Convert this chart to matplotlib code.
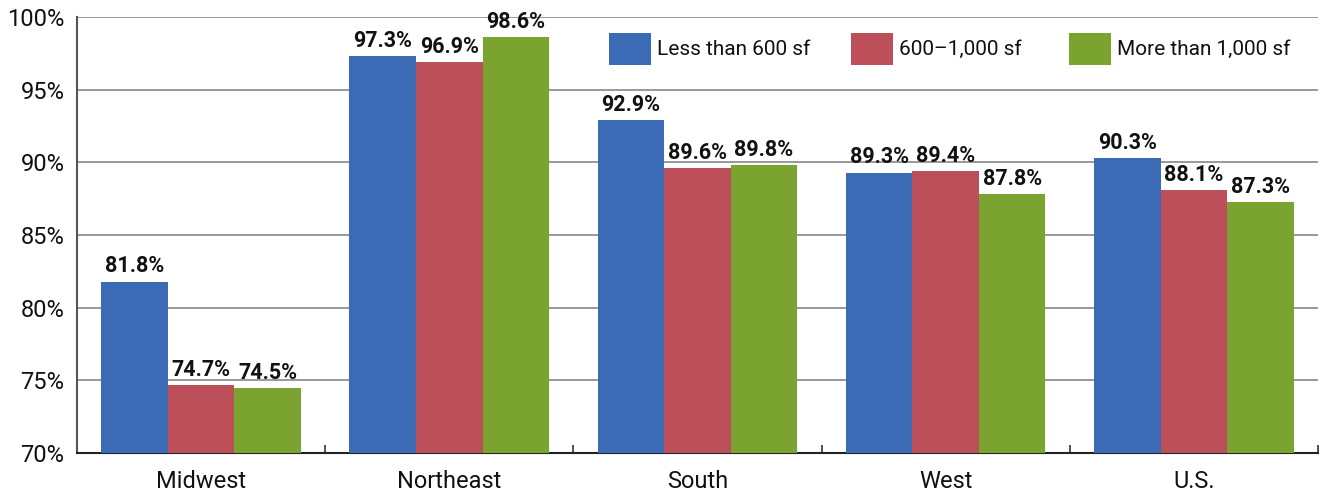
import matplotlib
matplotlib.use("Agg")
import matplotlib.pyplot as plt
import numpy as np
from matplotlib.ticker import FuncFormatter
from matplotlib.patches import Rectangle

plt.rcParams['font.family'] = ['Roboto', 'DejaVu Sans']

categories = ["Midwest", "Northeast", "South", "West", "U.S."]
series_names = ["Less than 600 sf", "600\u20131,000 sf", "More than 1,000 sf"]
less_600 = [81.8, 97.3, 92.9, 89.3, 90.3]
mid_600_1000 = [74.7, 96.9, 89.6, 89.4, 88.1]
more_1000 = [74.5, 98.6, 89.8, 87.8, 87.3]
colors = ["#3A6BB4", "#BC4F5A", "#7BA32F"]
y_ticks = [70, 75, 80, 85, 90, 95, 100]

fig = plt.figure(figsize=(13.27, 4.96), dpi=100)
ax = fig.add_axes([0.058, 0.0867, 0.9352, 0.879])

x = np.arange(len(categories))
w = 0.268
for i, (vals, name, c) in enumerate(zip([less_600, mid_600_1000, more_1000], series_names, colors)):
    pos = x + (i - 1) * w
    ax.bar(pos, vals, width=w, color=c, label=name, zorder=3)
    for p, v in zip(pos, vals):
        ax.text(p, v + 0.28, f"{v:.1f}%", ha='center', va='bottom',
                fontsize=15.5, fontweight='bold', color='#111111', zorder=4)

ax.set_xlim(-0.5, len(categories) - 0.5)
ax.set_ylim(70, 100)
ax.set_yticks(y_ticks)
ax.yaxis.set_major_formatter(FuncFormatter(lambda v, _: f"{v:.0f}%"))
ax.set_xticks(x)
ax.set_xticklabels(categories)
ax.set_xticks(np.arange(len(categories) + 1) - 0.5, minor=True)
ax.tick_params(axis='x', which='major', length=0, labelsize=17, pad=12, colors='#111111')
ax.tick_params(axis='x', which='minor', length=6, direction='in', color='#333333', width=1.2)
ax.tick_params(axis='y', length=0, labelsize=17, pad=9, colors='#111111')
ax.grid(axis='y', color='#888888', linewidth=1.2, zorder=0)
for s in ['top', 'right']:
    ax.spines[s].set_visible(False)
ax.spines['left'].set_color('#555555')
ax.spines['left'].set_linewidth(1.5)
ax.spines['bottom'].set_color('#222222')
ax.spines['bottom'].set_linewidth(1.5)

# legend drawn as patches + text in axes coordinates
leg_x = [0.4287, 0.6237, 0.7994]
hw, hh, top = 0.0338, 0.0734, 0.9633
for lx, name, c in zip(leg_x, series_names, colors):
    ax.add_patch(Rectangle((lx, top - hh), hw, hh, transform=ax.transAxes,
                           facecolor=c, edgecolor='none', zorder=5, clip_on=False))
    ax.text(lx + hw + 0.005, top - hh / 2, name, transform=ax.transAxes,
            ha='left', va='center', fontsize=15, color='#111111', zorder=5)

fig.savefig("out.png", dpi=100)
